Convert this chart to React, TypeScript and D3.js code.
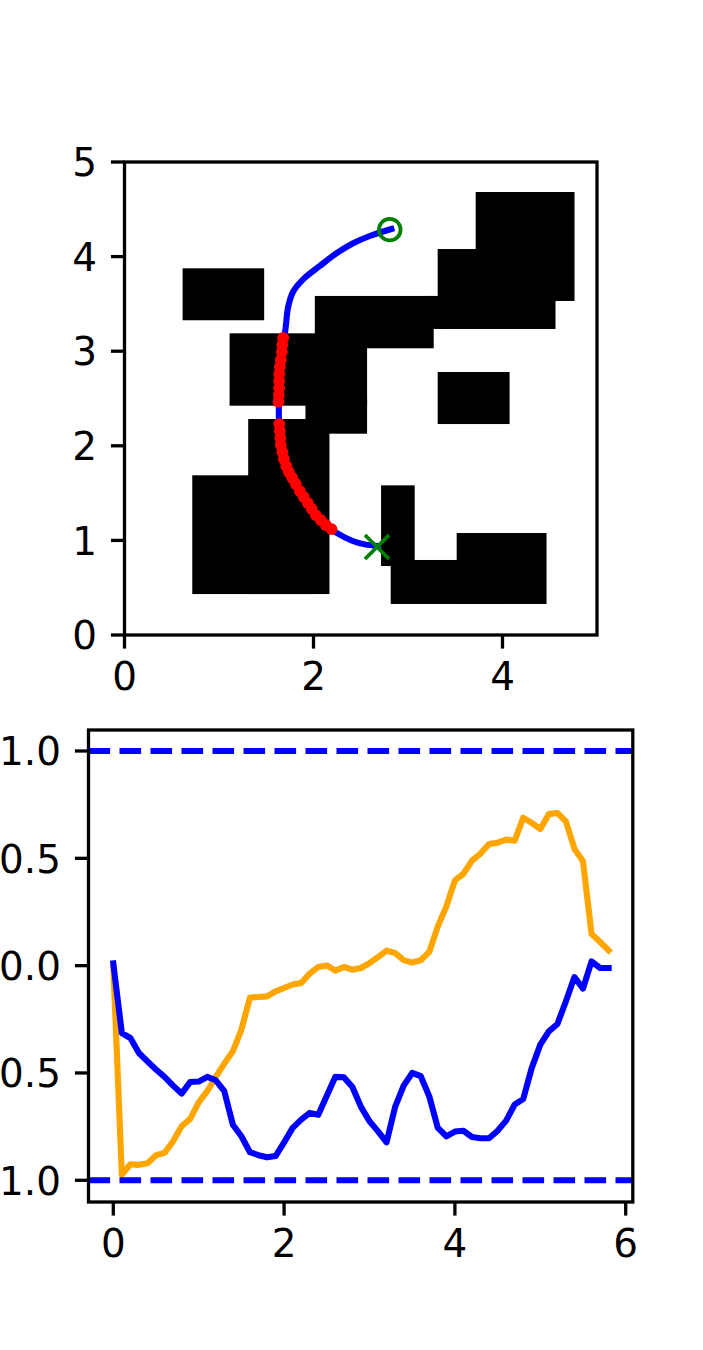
import React from "react";
import * as d3 from "d3";

const obstacles = [
  [0.615, 3.327, 1.478, 3.876],
  [1.112, 2.424, 2.567, 3.189],
  [2.014, 3.031, 3.272, 3.584],
  [1.915, 2.128, 2.567, 2.5],
  [1.309, 0.433, 2.169, 2.283],
  [0.717, 0.433, 2.0, 1.688],
  [2.715, 0.729, 3.071, 1.582],
  [2.817, 0.328, 4.0, 0.793],
  [3.515, 0.328, 4.466, 1.078],
  [3.314, 2.23, 4.075, 2.78],
  [3.314, 3.235, 4.561, 4.08],
  [3.716, 3.531, 4.762, 4.683],
  [3.2, 3.235, 3.4, 3.584],
];
const pathPts: [number, number][] = [
  [2.824, 4.292], [2.595, 4.218], [2.419, 4.141], [2.243, 4.035], [2.067, 3.901], [1.89, 3.76],
  [1.784, 3.629], [1.732, 3.47], [1.697, 3.192], [1.679, 3.14], [1.668, 2.981], [1.636, 2.77],
  [1.636, 2.516], [1.633, 2.347], [1.636, 2.241], [1.654, 2.03], [1.697, 1.818], [1.802, 1.607],
  [1.926, 1.395], [2.067, 1.216], [2.19, 1.12], [2.243, 1.081], [2.415, 0.994], [2.542, 0.958], [2.68, 0.941],
];
const collisionPts: [number, number][] = [
  [1.679, 3.14], [1.67, 3.066], [1.665, 2.992], [1.654, 2.907], [1.644, 2.833], [1.638, 2.759],
  [1.636, 2.685], [1.636, 2.611], [1.633, 2.537], [1.63, 2.466],
  [1.638, 2.23], [1.644, 2.156], [1.649, 2.082], [1.654, 2.008], [1.67, 1.934], [1.686, 1.86],
  [1.712, 1.786], [1.739, 1.723], [1.776, 1.66], [1.813, 1.596], [1.855, 1.522], [1.897, 1.459],
  [1.94, 1.395], [1.982, 1.332], [2.024, 1.268], [2.077, 1.216], [2.13, 1.163], [2.19, 1.12],
];
const goal: [number, number] = [2.807, 4.285];
const start: [number, number] = [2.672, 0.93];

const blue = [
  0.01, -0.314, -0.337, -0.407, -0.446, -0.484, -0.518, -0.559, -0.596, -0.542,
  -0.54, -0.518, -0.534, -0.585, -0.741, -0.795, -0.869, -0.883, -0.893, -0.887,
  -0.823, -0.756, -0.717, -0.686, -0.695, -0.606, -0.518, -0.52, -0.565, -0.658,
  -0.725, -0.772, -0.823, -0.658, -0.559, -0.5, -0.515, -0.609, -0.756, -0.795,
  -0.773, -0.769, -0.798, -0.804, -0.804, -0.769, -0.722, -0.647, -0.621, -0.476,
  -0.368, -0.306, -0.272, -0.166, -0.053, -0.107, 0.02, -0.011, -0.011,
];
const orange = [
  0, -0.973, -0.925, -0.928, -0.921, -0.883, -0.872, -0.818, -0.748, -0.714,
  -0.637, -0.585, -0.518, -0.456, -0.399, -0.298, -0.149, -0.146, -0.143, -0.12,
  -0.104, -0.088, -0.081, -0.037, -0.006, 0.001, -0.023, -0.006, -0.019, -0.011,
  0.012, 0.04, 0.07, 0.059, 0.026, 0.014, 0.025, 0.064, 0.183, 0.276,
  0.397, 0.428, 0.489, 0.522, 0.567, 0.573, 0.587, 0.582, 0.689, 0.665,
  0.637, 0.706, 0.711, 0.672, 0.544, 0.486, 0.148, 0.11, 0.071,
];
const times = blue.map((_, i) => i / 10);
const limits = [1, -1];

const topXTicks = [0, 2, 4];
const topYTicks = [0, 1, 2, 3, 4, 5];
const botXTicks = [0, 2, 4, 6];
const botYTicks = [1, 0.5, 0, -0.5, -1];

const FONT = "DejaVu Sans";
const FS = 38.9;
const AXW = 3.3;
const TICK = 13.6;
const LW = 6.1;

const px = d3.scaleLinear().domain([0, 5]).range([124.5, 597]);
const py = d3.scaleLinear().domain([0, 5]).range([635, 162]);
const tx = d3.scaleLinear().domain([0, 6]).range([113.3, 625.7]);
const ty = d3.scaleLinear().domain([-1, 1]).range([1180.3, 751]);

const fmtY = (v: number) => (v < 0 ? "\u2212" : "") + Math.abs(v).toFixed(1);

function Frame({ x0, x1, y0, y1, xTicks, yTicks, xs, ys, fmt, xBase }: any) {
  return (
    <g>
      <rect x={x0} y={y0} width={x1 - x0} height={y1 - y0} fill="none" stroke="#000" strokeWidth={AXW} />
      {xTicks.map((t: number) => (
        <g key={t}>
          <line x1={xs(t)} x2={xs(t)} y1={y1} y2={y1 + TICK} stroke="#000" strokeWidth={AXW} />
          <text x={xs(t)} y={xBase} textAnchor="middle" fontFamily={FONT} fontSize={FS} fill="#000">{t}</text>
        </g>
      ))}
      {yTicks.map((t: number) => (
        <g key={t}>
          <line x1={x0 - TICK} x2={x0} y1={ys(t)} y2={ys(t)} stroke="#000" strokeWidth={AXW} />
          <text x={x0 - TICK - 14} y={ys(t) + 14.2} textAnchor="end" fontFamily={FONT} fontSize={FS} fill="#000">{fmt(t)}</text>
        </g>
      ))}
    </g>
  );
}

export default function App() {
  const pathLine = d3.line<[number, number]>().x((d) => px(d[0])).y((d) => py(d[1])).curve(d3.curveCatmullRom.alpha(0.5));
  const seriesLine = (vals: number[]) =>
    d3.line<number>().x((_, i) => tx(times[i])).y((d) => ty(d))(vals) as string;
  const [gx, gy] = [px(goal[0]), py(goal[1])];
  const [sx, sy] = [px(start[0]), py(start[1])];
  const m = 12;
  return (
    <svg width={703} height={1350} viewBox="0 0 703 1350" style={{ position: "absolute", left: 0, top: 0, background: "#fff" }}>
      <g>
        {obstacles.map((r, i) => (
          <rect key={i} x={px(r[0])} y={py(r[3])} width={px(r[2]) - px(r[0])} height={py(r[1]) - py(r[3])} fill="#000" />
        ))}
        <path d={pathLine(pathPts) as string} fill="none" stroke="#0000ff" strokeWidth={LW} strokeLinecap="square" />
        {collisionPts.map((p, i) => (
          <circle key={i} cx={px(p[0])} cy={py(p[1])} r={5.9} fill="#ff0000" />
        ))}
        <circle cx={gx} cy={gy} r={10.8} fill="none" stroke="#008000" strokeWidth={3.8} />
        <path d={`M${sx - m},${sy - m}L${sx + m},${sy + m}M${sx - m},${sy + m}L${sx + m},${sy - m}`} stroke="#008000" strokeWidth={3.8} fill="none" />
      </g>
      <Frame x0={124.5} x1={597} y0={162} y1={635} xTicks={topXTicks} yTicks={topYTicks} xs={px} ys={py} fmt={(v: number) => String(v)} xBase={690} />

      <g>
        <path d={seriesLine(orange)} fill="none" stroke="#ffa500" strokeWidth={LW} strokeLinejoin="round" strokeLinecap="square" />
        <path d={seriesLine(blue)} fill="none" stroke="#0000ff" strokeWidth={LW} strokeLinejoin="round" strokeLinecap="square" />
        {limits.map((v) => (
          <line key={v} x1={88.5} x2={632.8} y1={ty(v)} y2={ty(v)} stroke="#0000ff" strokeWidth={LW} strokeDasharray="21.6 9.4" />
        ))}
      </g>
      <Frame x0={88.5} x1={632.8} y0={730} y1={1202} xTicks={botXTicks} yTicks={botYTicks} xs={tx} ys={ty} fmt={fmtY} xBase={1257} />
    </svg>
  );
}
